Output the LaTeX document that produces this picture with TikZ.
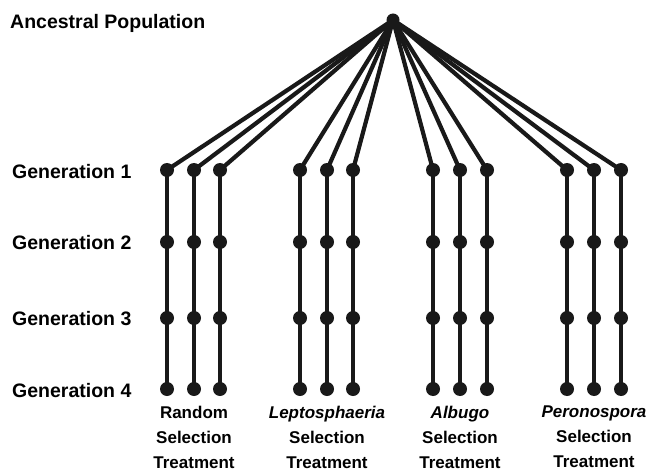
\documentclass[tikz,border=0pt]{standalone}
\usepackage{fontspec}
\setmainfont{Liberation Sans}
\begin{document}
\begin{tikzpicture}[x=1pt,y=-1pt,
  dot/.style={circle,fill=black!90,inner sep=0pt,minimum size=14pt},
  link/.style={line width=4.2pt,black!90},
  rowlabel/.style={anchor=west,inner sep=0pt,font=\fontsize{19.5}{21}\selectfont\bfseries},
  treat/.style={align=center,inner sep=0pt,anchor=north,font=\fontsize{17}{25}\selectfont\bfseries}]
\useasboundingbox (0,0) rectangle (647,473);
\node[dot,minimum size=13pt] (root) at (393,20) {};
\node[rowlabel] (anc) at (10,23) {Ancestral Population};
\node[rowlabel] (lg1) at (12,172) {Generation 1};
\node[rowlabel] (lg2) at (12,243) {Generation 2};
\node[rowlabel] (lg3) at (12,319) {Generation 3};
\node[rowlabel] (lg4) at (12,391) {Generation 4};
\foreach \x [count=\i] in {167,194,220,300,327,353,433,460,487,567,594,621}{
  \node[dot] (c\i-1) at (\x,170) {};
  \node[dot] (c\i-2) at (\x,242) {};
  \node[dot] (c\i-3) at (\x,318) {};
  \node[dot] (c\i-4) at (\x,389) {};
  \draw[link] (root.center) -- (c\i-1.center);
  \draw[link] (c\i-1.center) -- (c\i-2.center) -- (c\i-3.center) -- (c\i-4.center);
}
\node[treat] (t1) at (194,406) {Random\\Selection\\Treatment};
\node[treat] (t2) at (327,406) {\itshape Leptosphaeria\\Selection\\Treatment};
\node[treat] (t3) at (460,406) {\itshape Albugo\\Selection\\Treatment};
\node[treat] (t4) at (594,406) {\itshape Peronospora\\Selection\\Treatment};
\end{tikzpicture}
\end{document}
